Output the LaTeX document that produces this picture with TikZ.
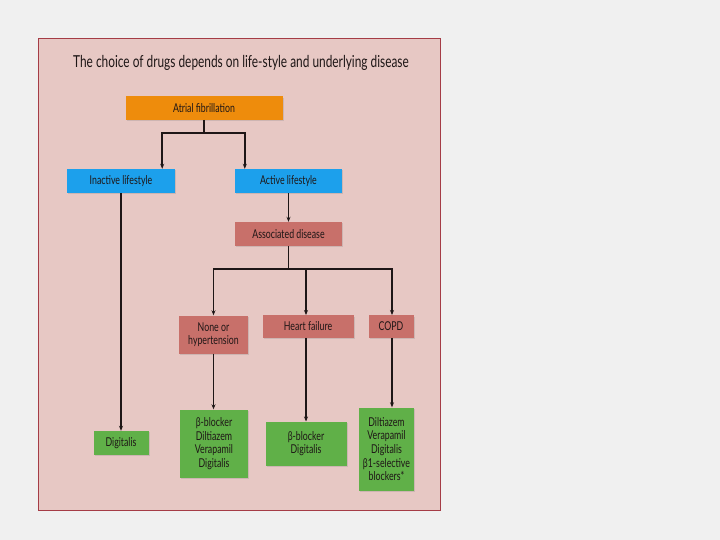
\documentclass[tikz,border=0pt]{standalone}
\usepackage{fontspec}
\setmainfont[FakeStretch=0.72]{Lato}
\usepackage{xcolor}
\usepackage{tikz}
\usetikzlibrary{arrows.meta, positioning, calc, shadows}
\definecolor{pagegray}{RGB}{240,240,240}
\definecolor{panelpink}{RGB}{231,200,196}
\definecolor{panelline}{RGB}{165,60,70}
\definecolor{afib}{RGB}{238,140,12}
\definecolor{skyblue}{RGB}{28,160,236}
\definecolor{diseasered}{RGB}{200,112,106}
\definecolor{drugreen}{RGB}{96,176,72}
\definecolor{ink}{RGB}{30,22,22}

\begin{document}
\begin{tikzpicture}[
    x=1pt, y=-1pt,
    box/.style={rectangle, inner sep=0pt, align=center, font=\fontsize{12.2}{13.6}\selectfont, text=ink,
        drop shadow={shadow xshift=1.2pt, shadow yshift=-1.4pt, opacity=0.25}},
    arrow/.style={-{Stealth[length=5pt, width=4pt]}, line width=1.6pt, draw=ink},
    link/.style={line width=1.6pt, draw=ink}
]
\useasboundingbox (0,0) rectangle (720,540);
\fill[pagegray] (0,0) rectangle (720,540);
\draw[panelline, fill=panelpink, line width=0.8pt] (38,38) rectangle (440,510);

% Title
\node[font=\fontsize{16.5}{19}\selectfont, text=ink] (title) at (241,63) {The choice of drugs depends on life-style and underlying disease};

% Top level
\node[box, fill=afib, minimum width=157pt, minimum height=23.5pt] (af) at (204,108) {Atrial fibrillation};
\node[box, fill=skyblue, minimum width=108pt, minimum height=24pt] (inactive) at (121,181) {Inactive lifestyle};
\node[box, fill=skyblue, minimum width=107pt, minimum height=24pt] (active) at (288.5,181) {Active lifestyle};
\node[box, fill=diseasered, minimum width=107pt, minimum height=24pt] (assoc) at (288.5,234) {Associated disease};

% Diseases
\node[box, fill=diseasered, minimum width=69pt, minimum height=38pt] (none) at (213.5,334.5) {None or\\hypertension};
\node[box, fill=diseasered, minimum width=91pt, minimum height=22.5pt] (hf) at (308,326.5) {Heart failure};
\node[box, fill=diseasered, minimum width=45pt, minimum height=22.5pt] (copd) at (391,326.5) {COPD};

% Drugs
\node[box, fill=drugreen, minimum width=55pt, minimum height=24pt] (dig) at (121,443) {Digitalis};
\node[box, fill=drugreen, minimum width=68pt, minimum height=68pt] (gnone) at (214,443.5) {β-blocker\\Diltiazem\\Verapamil\\Digitalis};
\node[box, fill=drugreen, minimum width=81pt, minimum height=44pt] (ghf) at (306,443.7) {β-blocker\\Digitalis};
\node[box, fill=drugreen, minimum width=55pt, minimum height=83pt] (gcopd) at (386.5,449) {Diltiazem\\Verapamil\\Digitalis\\β1-selective\\blockers*};

% Connectors
\coordinate (split1) at ($(af.south)+(0,13)$);
\draw[link] (af.south) -- (split1);
\draw[arrow] (split1) -| ([xshift=-13pt]inactive.north east);
\draw[arrow] (split1) -| ([xshift=10pt]active.north west);
\draw[arrow] (active) -- (assoc);

\coordinate (split2) at ($(assoc.south)+(0,22.5)$);
\draw[link] (assoc.south) -- (split2);
\draw[arrow] (split2) -| (none.north);
\draw[arrow, line width=1.1pt] (split2) -| ([xshift=-2pt]hf.north);
\draw[arrow] (split2) -| ([xshift=1pt]copd.north);

\draw[arrow] (inactive) -- (dig);
\draw[arrow] (none) -- (none.south |- gnone.north);
\draw[arrow, line width=1.1pt] ([xshift=-2pt]hf.south) -- ([xshift=-2pt]hf.south |- ghf.north);
\draw[arrow, line width=1.1pt] ([xshift=1pt]copd.south) -- ([xshift=1pt]copd.south |- gcopd.north);

\end{tikzpicture}
\end{document}
